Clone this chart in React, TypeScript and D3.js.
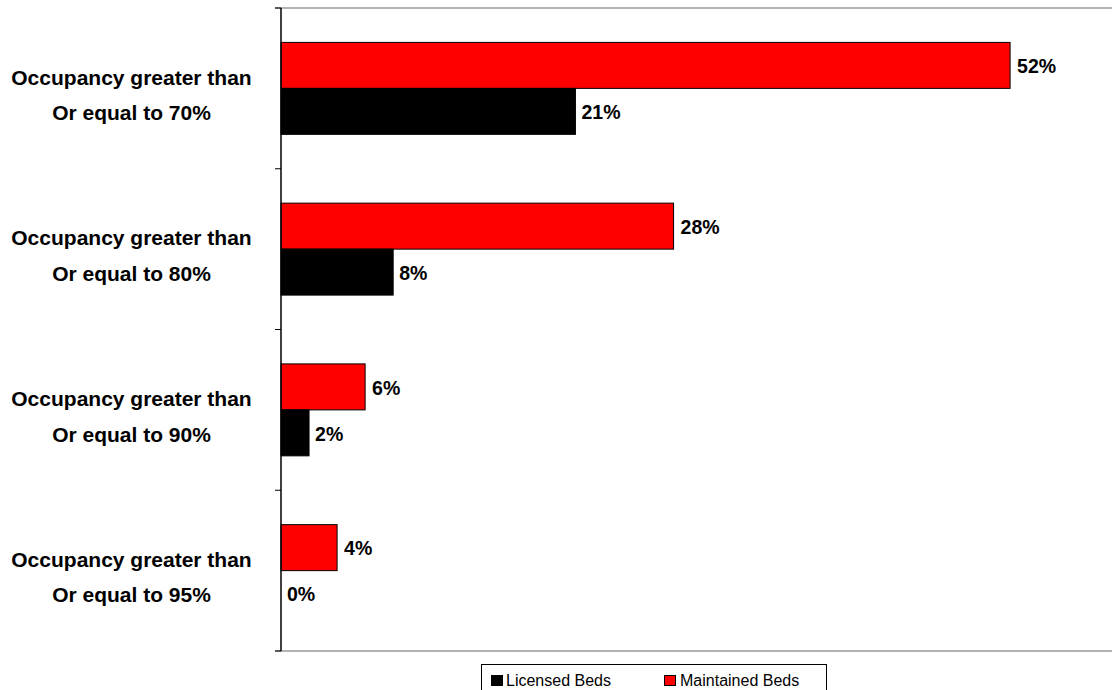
import React from "react";
import * as d3 from "d3";

const categories = ["70%", "80%", "90%", "95%"];
const maintainedBeds = [52, 28, 6, 4];
const licensedBeds = [21, 8, 2, 0];
const seriesNames = ["Licensed Beds", "Maintained Beds"];

const W = 1112;
const H = 690;
const left = 281;
const top = 8;
const bottom = 651;
const right = 1112;

export default function App() {
  const y = d3.scaleBand<string>().domain(categories).range([top, bottom]).paddingInner(0).paddingOuter(0);
  const x = d3.scaleLinear().domain([0, 59.27]).range([left, right]);
  const bw = y.bandwidth();
  const barH = bw * 0.286;
  const font = "'Liberation Sans', Arial, sans-serif";

  return (
    <svg width={W} height={H} style={{ position: "absolute", left: 0, top: 0, background: "#fff" }} fontFamily={font}>
      {/* top and bottom frame lines */}
      <line x1={275} x2={right} y1={top} y2={top} stroke="#999" strokeWidth={1.5} />
      <line x1={275} x2={right} y1={bottom} y2={bottom} stroke="#999" strokeWidth={1.5} />
      {categories.map((c, i) => {
        const y0 = y(c)!;
        const mid = y0 + bw / 2;
        return (
          <g key={c}>
            <rect x={x(0)} y={mid - barH} width={x(maintainedBeds[i]) - x(0)} height={barH} fill="#ff0000" stroke="#000" strokeWidth={1} />
            {licensedBeds[i] > 0 && (
              <rect x={x(0)} y={mid} width={x(licensedBeds[i]) - x(0)} height={barH} fill="#000" stroke="#000" strokeWidth={1} />
            )}
            <text x={x(maintainedBeds[i]) + 7} y={mid - barH / 2 + 1} dy="0.35em" fontSize={19.5} fontWeight="bold">{maintainedBeds[i]}%</text>
            <text x={x(licensedBeds[i]) + 6} y={mid + barH / 2 + 1} dy="0.35em" fontSize={19.5} fontWeight="bold">{licensedBeds[i]}%</text>
            <text x={131.5} y={mid - 11} dy="0.35em" textAnchor="middle" fontSize={21} fontWeight="bold">Occupancy greater than</text>
            <text x={131.5} y={mid + 24.5} dy="0.35em" textAnchor="middle" fontSize={21} fontWeight="bold">Or equal to {c}</text>
          </g>
        );
      })}
      {/* ticks */}
      {[...categories.map((c) => y(c)!), bottom].map((t, i) => (
        <line key={i} x1={275} x2={left} y1={t} y2={t} stroke="#000" strokeWidth={1} />
      ))}
      <line x1={left} x2={left} y1={top} y2={bottom} stroke="#000" strokeWidth={1.5} />
      {/* legend */}
      <rect x={481.5} y={664.5} width={345} height={40} fill="#fff" stroke="#000" strokeWidth={1} />
      <rect x={491.5} y={675.5} width={11} height={10} fill="#000" stroke="#000" />
      <text x={506} y={685.5} fontSize={16}>{seriesNames[0]}</text>
      <rect x={664.5} y={675.5} width={11} height={10} fill="#ff0000" stroke="#000" />
      <text x={680} y={685.5} fontSize={16}>{seriesNames[1]}</text>
    </svg>
  );
}
